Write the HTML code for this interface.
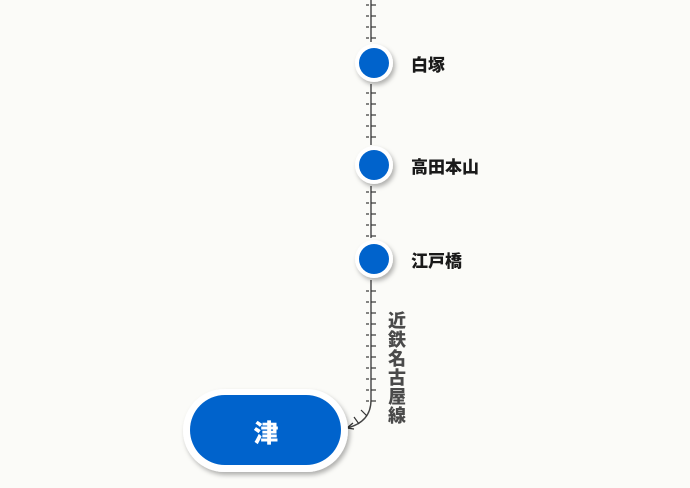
<!DOCTYPE html>
<html><head><meta charset="utf-8"><style>
html,body{margin:0;padding:0;background:#fbfbf8;}
svg{display:block;}
text{font-family:"Noto Sans CJK JP","WenQuanYi Zen Hei",sans-serif;font-weight:900;}
</style></head><body>
<svg width="690" height="488" viewBox="0 0 690 488" xmlns="http://www.w3.org/2000/svg">
<defs>
<filter id="sh" x="-50%" y="-50%" width="200%" height="200%"><feDropShadow dx="2" dy="3" stdDeviation="2.5" flood-color="#000" flood-opacity="0.3"/></filter>
<pattern id="tk" x="0" y="0" width="10" height="11" patternUnits="userSpaceOnUse"><line x1="1" y1="5" x2="9" y2="5" stroke="#333" stroke-width="1.2"/></pattern>
</defs>
<g stroke="#444" stroke-width="1.4" fill="none">
<line x1="371" y1="0" x2="371" y2="42"/>
<line x1="371" y1="84" x2="371" y2="145"/>
<line x1="371" y1="186" x2="371" y2="238"/>
<path d="M371 280 L371 400 Q371 422 347 428"/>
</g>
<rect x="366" y="0" width="10" height="42" fill="url(#tk)"/>
<rect x="366" y="88" width="10" height="56" fill="url(#tk)"/>
<rect x="366" y="188" width="10" height="50" fill="url(#tk)"/>
<rect x="366" y="284" width="10" height="118" fill="url(#tk)"/>
<g stroke="#333" stroke-width="1.2"><line x1="361" y1="410" x2="367" y2="416"/><line x1="354" y1="417" x2="359" y2="424"/></g>
<path d="M347 428 l6 -5 M347 428 l7 1" stroke="#333" stroke-width="1.3" fill="none"/>
<g filter="url(#sh)" fill="#fff">
<circle cx="374" cy="63" r="19"/><circle cx="374" cy="165" r="19"/><circle cx="374" cy="259" r="19"/>
<rect x="183" y="389" width="165" height="83" rx="41.5"/>
</g>
<g fill="#0063cc">
<circle cx="374" cy="63" r="15"/><circle cx="374" cy="165" r="15"/><circle cx="374" cy="259" r="15"/>
<rect x="190" y="395" width="151" height="70" rx="35"/>
</g>
<g fill="#1a1a1a" font-size="17">
<text x="411" y="71">白塚</text>
<text x="411" y="173">高田本山</text>
<text x="411" y="267">江戸橋</text>
</g>
<text x="266" y="442" fill="#fff" font-size="25" text-anchor="middle">津</text>
<g fill="#4a4a4a" font-size="18" text-anchor="middle">
<text x="397" y="327">近</text><text x="397" y="346">鉄</text><text x="397" y="365">名</text>
<text x="397" y="384">古</text><text x="397" y="403">屋</text><text x="397" y="422">線</text>
</g>
</svg>
</body></html>
